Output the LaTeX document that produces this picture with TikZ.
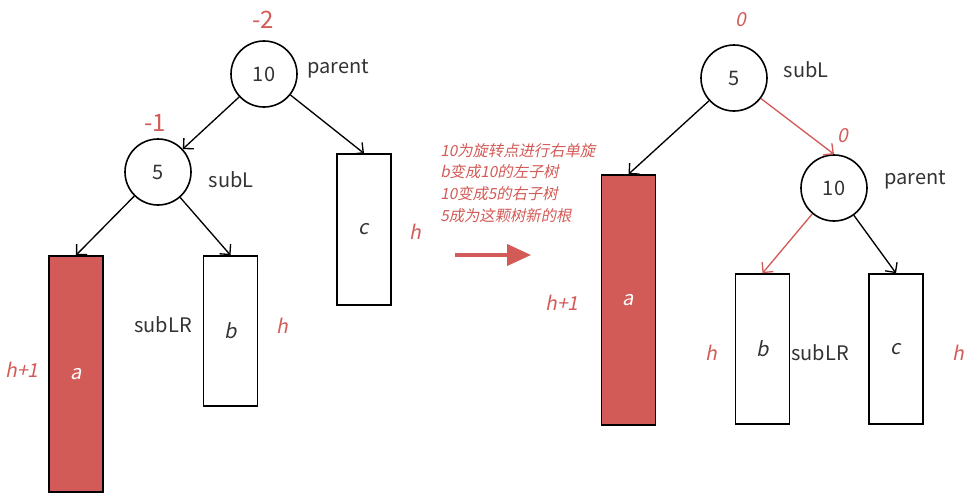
\documentclass[tikz,border=0pt]{standalone}
\usepackage{fontspec}
\setmainfont{Noto Sans CJK SC}
\newfontfamily\cjkit{Noto Sans CJK SC}[FakeSlant=0.2]
\usetikzlibrary{arrows.meta,positioning}
\definecolor{avlred}{RGB}{210,91,87}
\definecolor{avltext}{RGB}{51,51,51}

\begin{document}
\begin{tikzpicture}[x=0.75pt, y=-0.75pt,
  every node/.style={font=\fontsize{15}{18}\selectfont, text=avltext},
  tnode/.style={circle, draw, line width=1.2pt, minimum size=49.5pt, inner sep=0pt},
  subtree/.style={rectangle, draw, line width=1.2pt, minimum width=40.5pt, inner sep=0pt,
                  font=\cjkit\fontsize{15}{18}\selectfont},
  redtree/.style={subtree, fill=avlred, text=white},
  bal/.style={text=avlred, font=\fontsize{18}{21}\selectfont},
  hlabel/.style={text=avlred, font=\cjkit\fontsize{14.5}{17}\selectfont},
  link/.style={-{Straight Barb[length=5.5pt,width=11pt]}, line width=1pt},
  rlink/.style={link, draw=avlred}]
  \useasboundingbox (0,0) rectangle (972,497);
  % before rotation
  \node[tnode] (lp) at (264,74) {10};
  \node[bal] (lpbal) at (263,20) {-2};
  \node (lplab) at (338,69) {parent};
  \node[tnode] (ls) at (158,172) {5};
  \node[bal] (lsbal) at (155,123) {-1};
  \node (lslab) at (231,180) {subL};
  \node[redtree, minimum height=177pt] (la) at (76,374) {a};
  \node[hlabel] (lah) at (22,370) {h+1};
  \node[subtree, minimum height=112.5pt] (lb) at (230.5,331) {b};
  \node[hlabel] (lbh) at (282,326) {h};
  \node (lblab) at (163,325) {subLR};
  \node[subtree, minimum height=113pt] (lc) at (364,229.5) {c};
  \node[hlabel] (lch) at (415,232) {h};
  \draw[link] (lp) -- (ls);
  \draw[link] (lp) -- (lc.north);
  \draw[link] (ls) -- (la.north);
  \draw[link] (ls) -- (lb.north);
  % rotation note
  \node[anchor=north west, align=left, inner sep=0pt, text=avlred,
        font=\cjkit\fontsize{11.5}{16.3}\selectfont] (note) at (440,143)
    {10为旋转点进行右单旋\\b变成10的左子树\\10变成5的右子树\\5成为这颗树新的根};
  \coordinate (from) at (455,255);
  \coordinate (to) at (531,255);
  \draw[-{Triangle[length=18pt,width=16pt]}, line width=2.3pt, avlred] (from) -- (to);
  % after rotation
  \node[tnode] (rs) at (734,78) {5};
  \node[hlabel] (rsbal) at (741,20) {0};
  \node (rslab) at (806,70) {subL};
  \node[tnode] (rp) at (834,188) {10};
  \node[hlabel] (rpbal) at (843,136) {0};
  \node (rplab) at (915,180) {parent};
  \node[redtree, minimum height=187.5pt] (ra) at (628.5,300) {a};
  \node[hlabel] (rah) at (562,303) {h+1};
  \node[subtree, minimum height=112.5pt] (rb) at (762.5,349) {b};
  \node[hlabel] (rbh) at (711,353) {h};
  \node (rblab) at (820,353) {subLR};
  \node[subtree, minimum height=112.5pt] (rc) at (896,349) {c};
  \node[hlabel] (rch) at (958,353) {h};
  \draw[link] (rs) -- (ra.north);
  \draw[rlink] (rs) -- (rp.north);
  \draw[rlink] (rp) -- (rb.north);
  \draw[link] (rp) -- (rc.north);
\end{tikzpicture}
\end{document}
